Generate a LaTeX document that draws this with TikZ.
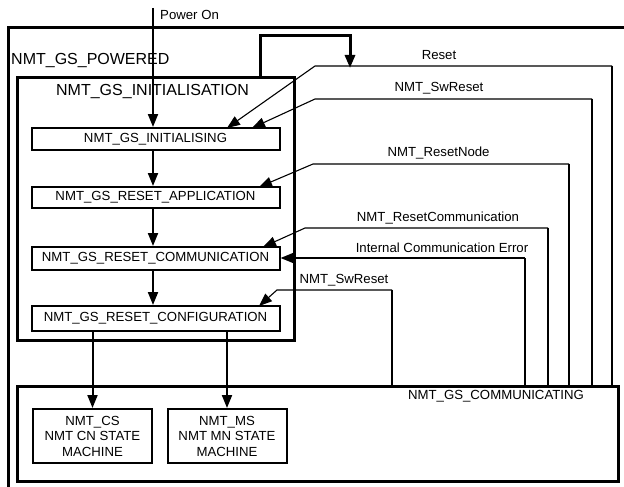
\documentclass[tikz,border=0pt]{standalone}
\usepackage{fontspec}
\setmainfont{Liberation Sans}
\usetikzlibrary{arrows.meta}
\begin{document}
\begin{tikzpicture}[x=1pt,y=-1pt,
  big/.style={font=\fontsize{16}{19}\selectfont},
  small/.style={font=\fontsize{13.2}{15.5}\selectfont},
  statebox/.style={draw, line width=2pt, minimum width=248pt, inner sep=0pt, small},
  smbox/.style={draw, line width=2pt, minimum width=119pt, minimum height=54pt, align=center, small, inner sep=0pt},
  tip/.style={-{Triangle[length=13pt,width=10pt]}},
  arr/.style={line width=2pt, tip},
  lbline/.style={line width=1.1pt},
  vert/.style={line width=2pt},
  lbl/.style={small, inner sep=0pt},
  thickbox/.style={line width=3pt}
]
\useasboundingbox (0,0) rectangle (624,487);
\clip (0,0) rectangle (624,487);
\fill[white] (0,0) rectangle (624,487);

% outer POWERED box (extends beyond the picture)
\draw[thickbox] (8,500) -- (8,28) -- (640,28);
\node[big, anchor=west, inner sep=0pt] (pwlbl) at (11,61) {NMT\_GS\_POWERED};

% INITIALISATION box
\node[draw, thickbox, minimum width=277pt, minimum height=262pt, inner sep=0pt] (ini) at (155.5,209) {};
\node[big, inner sep=0pt] (inilbl) at (152.5,92) {NMT\_GS\_INITIALISATION};

% states
\node[statebox, minimum height=22pt] (s1) at (155.5,139) {NMT\_GS\_INITIALISING};
\node[statebox, minimum height=21pt] (s2) at (155.5,197.5) {NMT\_GS\_RESET\_APPLICATION};
\node[statebox, minimum height=23pt] (s3) at (155.5,258.5) {NMT\_GS\_RESET\_COMMUNICATION};
\node[statebox, minimum height=25pt] (s4) at (155.5,318.5) {NMT\_GS\_RESET\_CONFIGURATION};

% COMMUNICATING box
\node[draw, thickbox, minimum width=601pt, minimum height=95pt, inner sep=0pt] (com) at (317.5,433.5) {};
\node[lbl] (comlbl) at (496,396) {NMT\_GS\_COMMUNICATING};
\node[smbox] (cs) at (92.5,436) {NMT\_CS\\NMT CN STATE\\MACHINE};
\node[smbox] (ms) at (227,436) {NMT\_MS\\NMT MN STATE\\MACHINE};

% Power On
\coordinate (pwr) at (153,8);
\node[lbl, anchor=west] (pon) at (160,15) {Power On};
\draw[arr] (pwr) -- (pwr |- s1.north);
\draw[arr] (s1.south -| pwr) -- (s2.north -| pwr);
\draw[arr] (s2.south -| pwr) -- (s3.north -| pwr);
\draw[arr] (s3.south -| pwr) -- (s4.north -| pwr);
\draw[arr] (s4.south -| cs.north) -- (cs.north);
\draw[arr] (s4.south -| ms.north) -- (ms.north);

% transition coordinates
\coordinate (r1a) at (315,66);   \coordinate (r1b) at (612,66);  \coordinate (t1) at (227,128);
\coordinate (r2a) at (315,99);   \coordinate (r2b) at (592,99);  \coordinate (t2) at (252,128);
\coordinate (r3a) at (313,164);  \coordinate (r3b) at (569,164); \coordinate (t3) at (259,187);
\coordinate (r4a) at (305,228);  \coordinate (r4b) at (548,228); \coordinate (t4) at (263,247);
\coordinate (r5b) at (525,258);
\coordinate (r6a) at (277,290);  \coordinate (r6b) at (392,290); \coordinate (t6) at (259,306);

% Reset loop from INITIALISATION
\coordinate (lp1) at (260,36); \coordinate (lp2) at (350,36);
\draw[thickbox, tip] (lp1 |- ini.north) -- (lp1) -- (lp2) -- ([yshift=-2pt]lp2 |- r1a);

% labels
\node[lbl] (l1) at (439,55) {Reset};
\node[lbl] (l2) at (439,88) {NMT\_SwReset};
\node[lbl] (l3) at (438.6,153) {NMT\_ResetNode};
\node[lbl] (l4) at (438,218) {NMT\_ResetCommunication};
\node[lbl] (l5) at (442,248) {Internal Communication Error};
\node[lbl] (l6) at (344,280) {NMT\_SwReset};

% verticals from COMMUNICATING
\foreach \c in {r1b,r2b,r3b,r4b,r5b,r6b}
  \draw[vert] (com.north -| \c) -- (\c);

% transitions
\draw[lbline, tip] (r1b) -- (r1a) -- (t1);
\draw[lbline, tip] (r2b) -- (r2a) -- (t2);
\draw[lbline, tip] (r3b) -- (r3a) -- (t3);
\draw[lbline, tip] (r4b) -- (r4a) -- (t4);
\draw[arr] (r5b) -- (r5b -| s3.east);
\draw[lbline, tip] (r6b) -- (r6a) -- (t6);
\end{tikzpicture}
\end{document}
